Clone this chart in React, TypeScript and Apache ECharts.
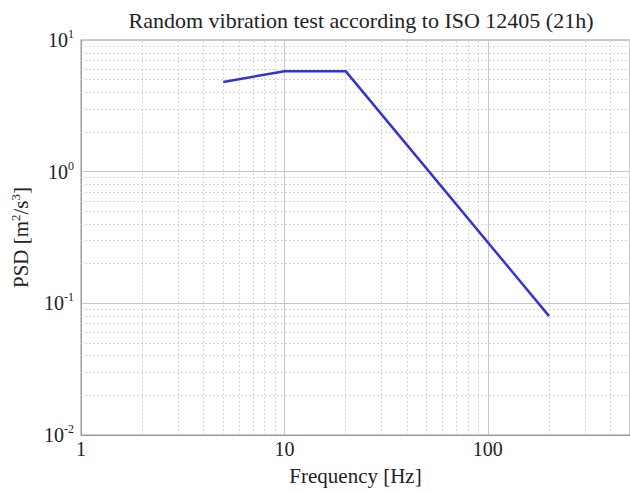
import React, { useEffect, useRef } from "react";
import * as echarts from "echarts";

const frequencies = [5, 10, 20, 200];
const psdValues = [4.8, 5.8, 5.8, 0.08];
const xMinorGrid = [2, 3, 4, 5, 6, 7, 8, 9, 20, 30, 40, 50, 60, 70, 80, 90, 200, 300, 400];
const yMinorGrid = [0.02, 0.03, 0.04, 0.05, 0.06, 0.07, 0.08, 0.09, 0.2, 0.3, 0.4, 0.5, 0.6, 0.7, 0.8, 0.9, 2, 3, 4, 5, 6, 7, 8, 9];
const titleText = "Random vibration test according to ISO 12405 (21h)";
const xName = "Frequency [Hz]";

const FONT = "Liberation Serif";

function isPow10(v: number) {
  const l = Math.log10(v);
  return Math.abs(l - Math.round(l)) < 1e-6;
}

export default function App() {
  const ref = useRef<HTMLDivElement>(null);
  useEffect(() => {
    if (!ref.current) return;
    const chart = echarts.init(ref.current, null, { renderer: "svg" });
    const minorLine = { color: "#d6d6d6", width: 1, type: [2, 2] as any };
    chart.setOption({
      animation: false,
      backgroundColor: "#ffffff",
      title: {
        text: titleText,
        left: 356,
        top: 4,
        textAlign: "center",
        textStyle: { fontFamily: FONT, fontSize: 22, fontWeight: "normal", color: "#222" },
      },
      grid: {
        left: 81,
        top: 40,
        right: 0,
        bottom: 50,
        show: true,
        borderColor: "#9a9a9a",
        borderWidth: 1,
      },
      xAxis: {
        type: "log",
        logBase: 10,
        min: 1,
        max: 500,
        name: xName,
        nameLocation: "middle",
        nameGap: 30,
        nameTextStyle: { fontFamily: FONT, fontSize: 21, color: "#222" },
        axisLine: { show: true, lineStyle: { color: "#9a9a9a" } },
        axisTick: { show: false },
        axisLabel: {
          fontFamily: FONT,
          fontSize: 20,
          color: "#222",
          margin: 4,
          showMaxLabel: false,
          formatter: (v: number) => (isPow10(v) ? String(Math.round(v)) : ""),
        },
        splitLine: { show: true, lineStyle: { color: "#c8c8c8", width: 1 } },
      },
      yAxis: {
        type: "log",
        logBase: 10,
        min: 0.01,
        max: 10,
        name: "PSD [m{s|2}/s{s|3}]",
        nameLocation: "middle",
        nameGap: 49,
        nameRotate: 90,
        nameTextStyle: {
          fontFamily: FONT,
          fontSize: 21,
          color: "#222",
          rich: { s: { fontFamily: FONT, fontSize: 13, color: "#222", verticalAlign: "top", padding: [0, 0, 10, 0] } },
        },
        axisLine: { show: true, lineStyle: { color: "#9a9a9a" } },
        axisTick: { show: false },
        axisLabel: {
          fontFamily: FONT,
          color: "#222",
          margin: 7,
          formatter: (v: number) => {
            const e = Math.round(Math.log10(v));
            return `{b|10}{e|${e}}`;
          },
          rich: {
            b: { fontFamily: FONT, fontSize: 20, color: "#222" },
            e: { fontFamily: FONT, fontSize: 12, color: "#222", verticalAlign: "top", padding: [0, 0, 12, 0] },
          },
        },
        splitLine: { show: true, lineStyle: { color: "#c8c8c8", width: 1 } },
      },
      series: [
        {
          type: "line",
          data: frequencies.map((f, i) => [f, psdValues[i]]),
          showSymbol: false,
          symbol: "none",
          lineStyle: { color: "#3434d4", width: 2.5 },
          z: 5,
          markLine: {
            silent: true,
            symbol: "none",
            label: { show: false },
            lineStyle: minorLine,
            data: [
              ...xMinorGrid.map((x) => ({ xAxis: x })),
              ...yMinorGrid.map((y) => ({ yAxis: y })),
            ],
            z: 1,
          },
        },
      ],
    });
    return () => chart.dispose();
  }, []);
  return (
    <div
      ref={ref}
      style={{ position: "absolute", left: 0, top: 0, width: 630, height: 491 }}
    />
  );
}
